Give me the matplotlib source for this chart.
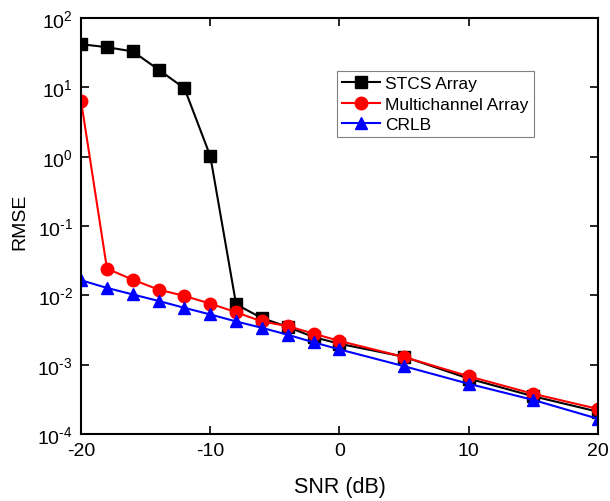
import numpy as np
import matplotlib.pyplot as plt
from matplotlib.ticker import LogLocator, NullLocator, FuncFormatter

plt.rcParams['font.family'] = ['Liberation Sans', 'DejaVu Sans']
plt.rcParams['mathtext.fontset'] = 'custom'
plt.rcParams['mathtext.rm'] = 'Liberation Sans'
plt.rcParams['mathtext.it'] = 'Liberation Sans'
plt.rcParams['axes.unicode_minus'] = False

snr = [-20, -18, -16, -14, -12, -10, -8, -6, -4, -2, 0, 5, 10, 15, 20]
stcs = [42, 38, 33, 18, 9.7, 1.02, 0.0074, 0.0047, 0.0035, 0.0025, 0.0020,
        0.0013, 0.00063, 0.00035, 0.00021]
multi = [6.3, 0.0243, 0.0168, 0.0121, 0.0098, 0.0076, 0.0057, 0.0042, 0.0036,
         0.0028, 0.0022, 0.00129, 0.00068, 0.00038, 0.00023]
crlb = [0.0165, 0.0128, 0.0103, 0.0083, 0.0066, 0.0053, 0.0042, 0.0034, 0.0027,
        0.0021, 0.00166, 0.00095, 0.00053, 0.00031, 0.000166]

fig = plt.figure(figsize=(6.1, 5.02), dpi=100)
ax = fig.add_axes([0.133, 0.1335, 0.847, 0.8285])

ax.plot(snr, stcs, '-s', color='black', lw=1.5, ms=8, label='STCS Array')
ax.plot(snr, multi, '-o', color='red', lw=1.5, ms=9, label='Multichannel Array')
ax.plot(snr, crlb, '-^', color='blue', lw=1.5, ms=9, label='CRLB')

ax.set_yscale('log')
ax.set_xlim(-20, 20)
ax.set_ylim(1e-4, 1e2)
ax.set_xticks([-20, -10, 0, 10, 20])
ax.yaxis.set_major_locator(LogLocator(base=10, numticks=10))
ax.yaxis.set_minor_locator(NullLocator())
# hyphen in the exponent, like the original figure
ax.yaxis.set_major_formatter(FuncFormatter(
    lambda v, p: r'$10^{\text{%d}}$' % round(np.log10(v))))
ax.tick_params(direction='in', length=6, width=1.2, top=True, right=True,
               labelsize=14, pad=6)
for s in ax.spines.values():
    s.set_linewidth(1.5)

ax.set_xlabel('SNR (dB)', fontsize=15.5, labelpad=12)
ax.set_ylabel('RMSE', fontsize=14)
ax.yaxis.set_label_coords(-0.103, 0.512)

leg = ax.legend(loc='upper left', bbox_to_anchor=(0.495, 0.873), fontsize=12.5,
                fancybox=False, framealpha=1, edgecolor='gray',
                handlelength=2.2, borderpad=0.3, labelspacing=0.3,
                handletextpad=0.3, borderaxespad=0)
leg.get_frame().set_linewidth(0.8)

fig.savefig('out.png', dpi=100)
